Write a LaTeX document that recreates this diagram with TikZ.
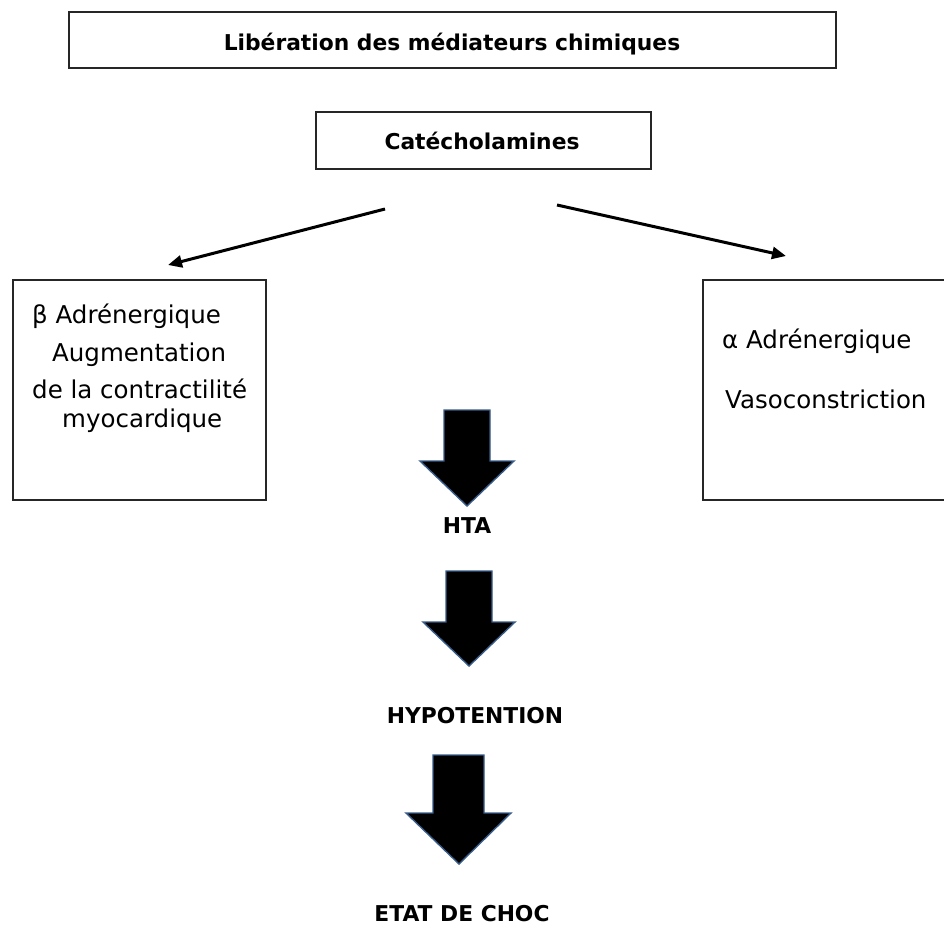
\documentclass[tikz,border=0pt]{standalone}
\usepackage{fontspec}
\setmainfont{DejaVu Sans}
\usetikzlibrary{arrows.meta}
\definecolor{arrowedge}{HTML}{385D8A}
\tikzset{
  box/.style={draw=black!85, line width=2pt},
  head/.style={font=\bfseries\fontsize{21.8}{26}\selectfont, inner sep=0pt, anchor=base},
  body/.style={font=\fontsize{24.5}{29}\selectfont, inner sep=0pt, anchor=base west},
  conn/.style={line width=3pt, -{Triangle[length=14pt,width=12pt]}},
  bigarrow/.style={fill=black, draw=arrowedge, line width=1.4pt, line join=miter}
}
\begin{document}
\begin{tikzpicture}[x=1pt,y=-1pt]
\useasboundingbox (0,0) rectangle (944,927);
\fill[white] (0,0) rectangle (944,927);
% top boxes
\draw[box] (69,12) rectangle (836,68);
\node[head] (lib) at (452,50) {Libération des médiateurs chimiques};
\draw[box] (316,112) rectangle (651,169);
\node[head] (cat) at (482,149) {Catécholamines};
% connectors
\coordinate (l0) at (385,209);
\coordinate (l1) at (168,265);
\coordinate (r0) at (557,205);
\coordinate (r1) at (786,256);
\draw[conn] (l0) -- (l1);
\draw[conn] (r0) -- (r1);
% side boxes
\draw[box] (13,280) rectangle (266,500);
\node[body] (b1) at (32,323) {β Adrénergique};
\node[body] (b2) at (52,361) {Augmentation};
\node[body] (b3) at (32,398) {de la contractilité};
\node[body] (b4) at (62,427) {myocardique};
\draw[box] (703,280) rectangle (960,500);
\node[body] (a1) at (722,348) {α Adrénergique};
\node[body] (a2) at (725,408) {Vasoconstriction};
% block arrows
\coordinate (t1) at (467,506);
\draw[bigarrow] (444,410) -- (490,410) -- (490,461) -- (514,461) -- (t1) -- (420,461) -- (444,461) -- cycle;
\node[head] (hta) at (467,533) {HTA};
\coordinate (t2) at (469,666);
\draw[bigarrow] (446,571) -- (492,571) -- (492,622) -- (515,622) -- (t2) -- (423,622) -- (446,622) -- cycle;
\node[head] (hypo) at (475,723) {HYPOTENTION};
\coordinate (t3) at (459,864);
\draw[bigarrow] (433,755) -- (484,755) -- (484,813) -- (511,813) -- (t3) -- (406,813) -- (433,813) -- cycle;
\node[head] (choc) at (462,921) {ETAT DE CHOC};
\end{tikzpicture}
\end{document}
